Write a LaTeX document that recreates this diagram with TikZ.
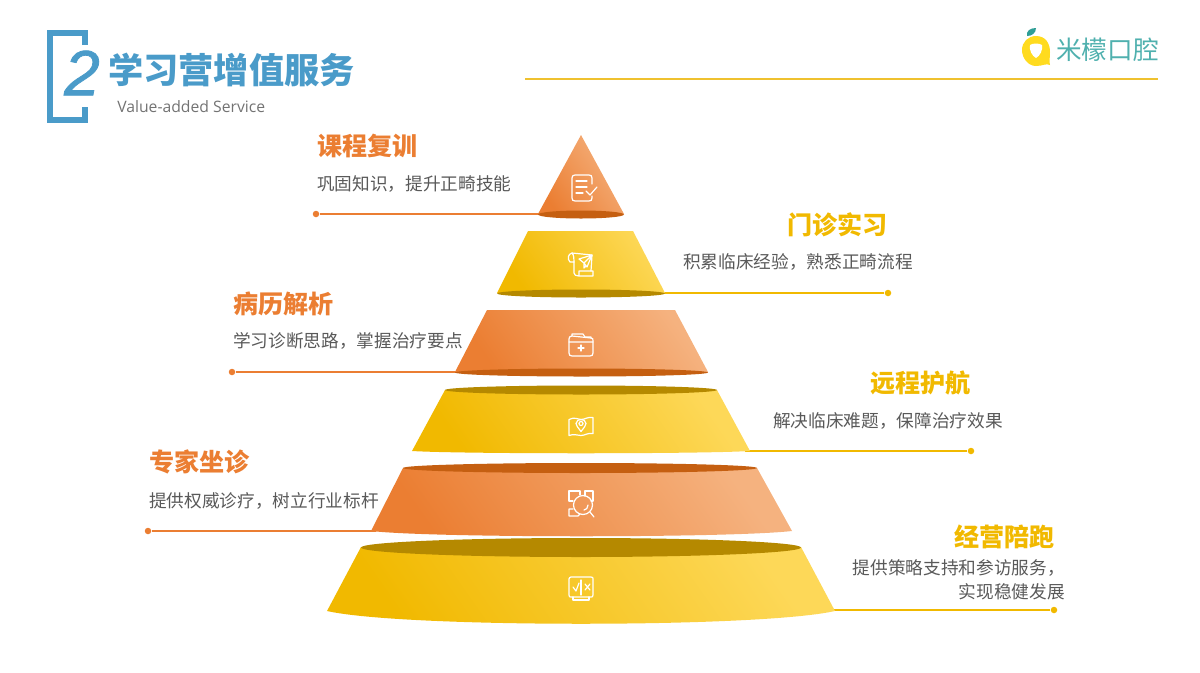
\documentclass[tikz,border=0pt]{standalone}
\usepackage{fontspec}
\setmainfont{Open Sans}
\newfontfamily\cjkfont{Noto Sans CJK SC}
\newfontfamily\numfont[FakeBold=1.2]{Liberation Sans}
\definecolor{TierOrange}{HTML}{EB7E32}
\definecolor{TierOrangeLight}{HTML}{F5B27F}
\definecolor{TierOrangeDark}{HTML}{C55F11}
\definecolor{TierYellow}{HTML}{F1B900}
\definecolor{TierYellowLight}{HTML}{FDD858}
\definecolor{TierYellowDark}{HTML}{B58900}
\definecolor{TitleBlue}{HTML}{4A9BC9}
\definecolor{LogoTeal}{HTML}{4FB0AE}
\definecolor{LogoLeaf}{HTML}{2F9E96}
\definecolor{LogoYellow}{HTML}{FFDB1F}
\definecolor{RuleYellow}{HTML}{EFC12F}
\definecolor{BodyGray}{HTML}{595959}
\tikzset{
  orangebody/.style={left color=TierOrange, right color=TierOrangeLight, shading angle=125},
  yellowbody/.style={left color=TierYellow, right color=TierYellowLight, shading angle=125},
  dotorange/.style={circle, fill=TierOrange, inner sep=0pt, minimum size=6.5pt*0.75},
  dotyellow/.style={circle, fill=TierYellow, inner sep=0pt, minimum size=6.5pt*0.75},
  heading/.style={font=\cjkfont\bfseries\fontsize{18.8}{22}\selectfont, inner sep=0pt},
  bodytext/.style={font=\cjkfont\fontsize{13.25}{18}\selectfont, text=BodyGray, inner sep=0pt},
  icon/.style={draw=white, line width=0.9pt, line cap=round, line join=round},
}
\begin{document}
\begin{tikzpicture}[x=0.75pt,y=-0.75pt]
\useasboundingbox (0,0) rectangle (1200,672);

% header
\draw[TitleBlue, line width=3.9pt, line join=miter] (85,45) -- (85,33) -- (50,33) -- (50,120) -- (85,120) -- (85,107);
\node[text=TitleBlue, inner sep=0pt, font=\numfont\itshape\fontsize{48}{50}\selectfont] (num) at (82,73) {2};
\node[text=TitleBlue, anchor=west, inner sep=0pt, font=\cjkfont\bfseries\fontsize{26.4}{30}\selectfont] (title) at (108,70) {学习营增值服务};
\node[text=black!55, anchor=west, inner sep=0pt, font=\fontsize{11.8}{14}\selectfont] (subtitle) at (117,106.5) {Value-added Service};

% logo
\coordinate (rule1) at (525,79);
\coordinate (rule2) at (1158,79);
\draw[RuleYellow, line width=1.7pt] (rule1) -- (rule2);
\fill[LogoLeaf] (1027,36) .. controls (1026,31) and (1030,28) .. (1036,28) .. controls (1036,33) and (1032,36) .. (1027,36);
\fill[LogoYellow] (1036,36) .. controls (1046,36) and (1050,44) .. (1050,52) .. controls (1050,57) and (1049,62) .. (1050,65) .. controls (1046,63) and (1043,66) .. (1036,66) .. controls (1028,66) and (1022,58) .. (1022,50) .. controls (1022,42) and (1028,36) .. (1036,36);
\fill[white] (1030,45) .. controls (1033,43) and (1039,43) .. (1042,45) .. controls (1043,50) and (1040,56) .. (1036,58) .. controls (1032,56) and (1029,50) .. (1030,45);
\node[text=LogoTeal, anchor=west, inner sep=0pt, font=\cjkfont\fontsize{19.2}{22}\selectfont] (logo) at (1056,49.5) {米檬口腔};

% connectors
\node[dotorange] (dot1) at (316,214) {};
\node[dotyellow] (dot2) at (888,293) {};
\node[dotorange] (dot3) at (232,372) {};
\node[dotyellow] (dot4) at (971,451) {};
\node[dotorange] (dot5) at (148,531) {};
\node[dotyellow] (dot6) at (1054,610) {};
\coordinate (end1) at (545,214);
\coordinate (end2) at (660,293);
\coordinate (end3) at (460,372);
\coordinate (end4) at (745,451);
\coordinate (end5) at (376,531);
\coordinate (end6) at (830,610);
\draw[TierOrange, line width=1.7pt] (dot1) -- (end1);
\draw[TierYellow, line width=1.7pt] (dot2) -- (end2);
\draw[TierOrange, line width=1.7pt] (dot3) -- (end3);
\draw[TierYellow, line width=1.7pt] (dot4) -- (end4);
\draw[TierOrange, line width=1.7pt] (dot5) -- (end5);
\draw[TierYellow, line width=1.7pt] (dot6) -- (end6);

% tiers, from the top
\shade[orangebody] (581,135) -- (624,214) -- (538,214) -- cycle;
\fill[TierOrangeDark] (581,214.5) ellipse [x radius=43, y radius=4];

\shade[yellowbody] (528,231) -- (633,231) -- (665,293) -- (497,293) -- cycle;
\fill[TierYellowDark] (581,293.5) ellipse [x radius=84, y radius=4];

\shade[orangebody] (487,310) -- (675,310) -- (708,372) -- (455,372) -- cycle;
\fill[TierOrangeDark] (581.5,372.5) ellipse [x radius=126.5, y radius=4];

\shade[yellowbody] (445,390) -- (717,390) -- (750,451) .. controls (700,454) and (462,454) .. (412,451) -- cycle;
\fill[TierYellowDark] (581,390) ellipse [x radius=136, y radius=4.5];

\shade[orangebody] (403,468) -- (757,468) -- (792,531) .. controls (730,538) and (433,538) .. (371,531) -- cycle;
\fill[TierOrangeDark] (580,468) ellipse [x radius=177, y radius=5];

\shade[yellowbody] (361,547) -- (801,547) -- (835,611) .. controls (760,628) and (402,628) .. (327,611) -- cycle;
\fill[TierYellowDark] (581,547.5) ellipse [x radius=220, y radius=9.5];

% icons
\begin{scope}[shift={(584,188)}]
\draw[icon] (8,-4) -- (8,-10) .. controls (8,-12) and (7,-13) .. (5,-13) -- (-9,-13) .. controls (-11,-13) and (-12,-12) .. (-12,-10) -- (-12,10) .. controls (-12,12) and (-11,13) .. (-9,13) -- (5,13) .. controls (7,13) and (8,12) .. (8,10) -- (8,8);
\draw[icon] (-8,-7) -- (3,-7) (-8,-1) -- (3,-1) (-8,5) -- (-1,5);
\draw[icon] (2,3) -- (6,7) -- (13,-1);
\end{scope}
\begin{scope}[shift={(581,265)}]
\draw[icon] (-7,-3) -- (-7,8) .. controls (-7,10) and (-5,11) .. (-2,11) -- (12,11) -- (12,6) -- (-2,6) -- (-2,11);
\draw[icon] (-7,-3) -- (-11,-3) .. controls (-14,-6) and (-13,-11) .. (-9,-12) -- (11,-10) -- (10,6);
\draw[icon] (-9,-12) .. controls (-7,-10) and (-7,-6) .. (-7,-3);
\draw[icon] (-2,-6) -- (11,-10) -- (6,2) -- (3,-2) -- cycle (3,-2) -- (11,-10) (3,-2) -- (3,3) -- (5,1);
\end{scope}
\begin{scope}[shift={(581,345)}]
\draw[icon] (-12,-6) .. controls (-12,-8) and (-11,-9) .. (-9,-9) -- (10,-7) .. controls (12,-7) and (12,-6) .. (12,-4) -- (12,8) .. controls (12,10) and (11,11) .. (9,11) -- (-9,11) .. controls (-11,11) and (-12,10) .. (-12,8) -- cycle;
\draw[icon] (-9,-9) -- (-9,-11) -- (2,-11) -- (4,-8) -- (10,-8) -- (10,-7) (-12,-3) -- (12,-3);
\draw[icon] (-3,3) -- (3,3) (0,0) -- (0,6);
\end{scope}
\begin{scope}[shift={(581,426.5)}]
\draw[icon] (-12,-7) .. controls (-6,-10) and (-4,-7) .. (0,-7) .. controls (4,-7) and (7,-10) .. (12,-9) -- (12,7) .. controls (7,6) and (4,9) .. (0,9) .. controls (-4,9) and (-7,7) .. (-12,9) -- cycle;
\draw[icon] (0,5) .. controls (-3,1) and (-5,-1) .. (-5,-3) .. controls (-5,-6) and (-2,-7) .. (0,-7) .. controls (2,-7) and (5,-6) .. (5,-3) .. controls (5,-1) and (3,1) .. (0,5) -- cycle;
\draw[icon] (0,-3) circle [radius=2];
\end{scope}
\begin{scope}[shift={(581,504)}]
\draw[icon] (-1,-9) -- (-1,-13) -- (-12,-13) -- (-12,-3) -- (-8,-3);
\draw[icon] (4,-8) -- (4,-13) -- (12,-13) -- (12,-3) -- (10,-3);
\draw[icon] (-8,5) -- (-12,5) -- (-12,12) -- (-3,12) -- (-1,10);
\draw[icon] (2,1) circle [radius=9.5];
\draw[icon] (7,1) .. controls (7,4) and (5,6) .. (3,6) (9,8) -- (13,13);
\end{scope}
\begin{scope}[shift={(581,588)}]
\draw[icon] (-10,-11) -- (10,-11) .. controls (12,-11) and (12,-10) .. (12,-9) -- (12,7) .. controls (12,9) and (11,9) .. (10,9) -- (-10,9) .. controls (-11,9) and (-12,9) .. (-12,7) -- (-12,-9) .. controls (-12,-10) and (-11,-11) .. (-10,-11) -- cycle;
\draw[icon] (-8,9) -- (-8,12) -- (8,12) -- (8,9) (0,-8) -- (0,7);
\draw[icon] (-8,-1) -- (-5,3) -- (-2,-5) (4,-4) -- (9,2) (9,-4) -- (4,2);
\end{scope}

% labels
\node[heading, text=TierOrange, anchor=west] (head1) at (317,146) {课程复训};
\node[bodytext, anchor=west] (text1) at (317,184.5) {巩固知识，提升正畸技能};
\node[heading, text=TierYellow, anchor=west] (head2) at (787,225) {门诊实习};
\node[bodytext, anchor=west] (text2) at (683,261.5) {积累临床经验，熟悉正畸流程};
\node[heading, text=TierOrange, anchor=west] (head3) at (233,304) {病历解析};
\node[bodytext, anchor=west] (text3) at (233,340.5) {学习诊断思路，掌握治疗要点};
\node[heading, text=TierYellow, anchor=west] (head4) at (870,383) {远程护航};
\node[bodytext, anchor=west] (text4) at (773,420.5) {解决临床难题，保障治疗效果};
\node[heading, text=TierOrange, anchor=west] (head5) at (149,462) {专家坐诊};
\node[bodytext, anchor=west] (text5) at (149,500.5) {提供权威诊疗，树立行业标杆};
\node[heading, text=TierYellow, anchor=west] (head6) at (954,537) {经营陪跑};
\node[bodytext, anchor=east, align=right] (text6) at (1065,579.5) {提供策略支持和参访服务，\\实现稳健发展};
\end{tikzpicture}
\end{document}
